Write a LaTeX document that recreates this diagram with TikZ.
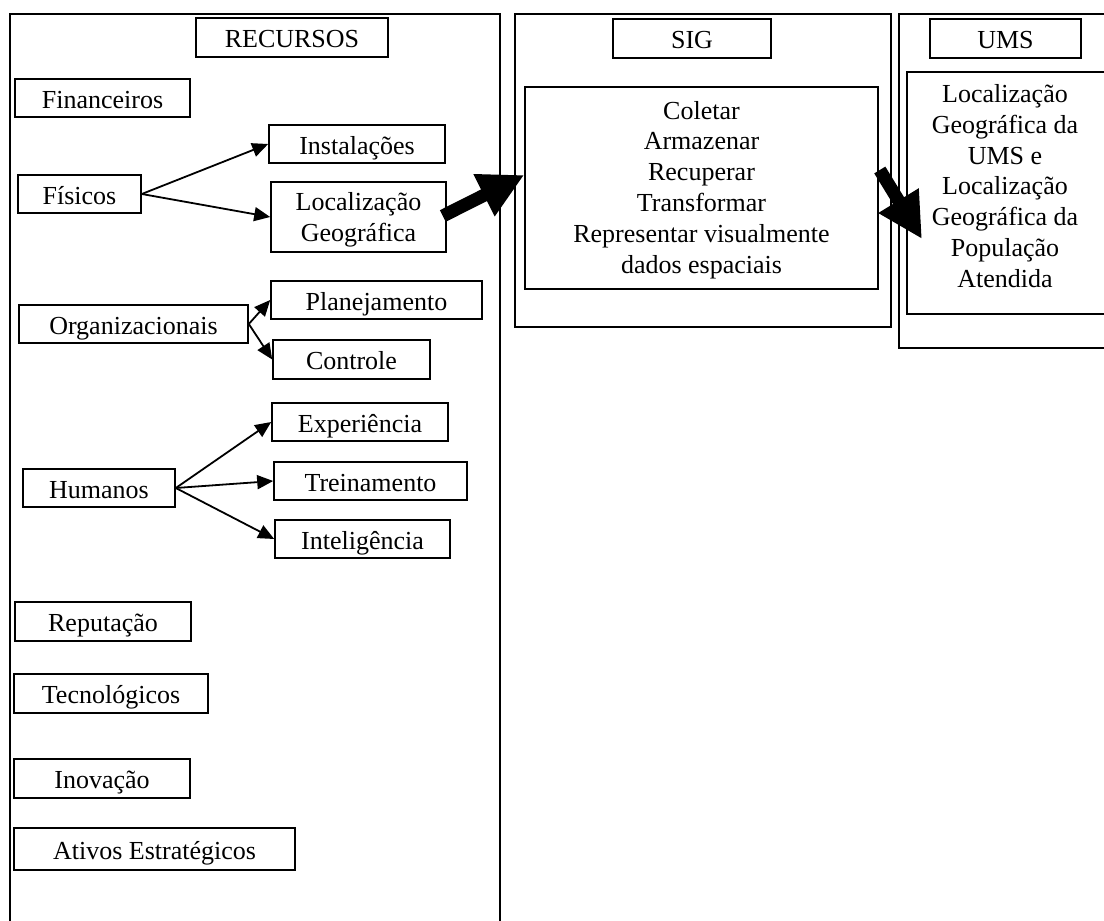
\documentclass[tikz,border=0pt]{standalone}
\usepackage{fontspec}
\setmainfont{Liberation Serif}
\usetikzlibrary{arrows.meta,calc}
\begin{document}
\begin{tikzpicture}[x=1pt,y=-1pt,
  font=\fontsize{26pt}{30.8pt}\selectfont,
  frame/.style={draw, line width=1.6pt, inner sep=0pt, anchor=north west},
  box/.style={draw, line width=1.6pt, inner sep=0pt, text height=21pt, text depth=1pt},
  mbox/.style={draw, line width=1.6pt, inner sep=0pt, align=center},
  conn/.style={line width=1.8pt, -{Triangle[length=16pt,width=14pt]}},
  bigarrow/.style={line width=13pt, -{Triangle[length=45pt,width=44pt]}}]
\useasboundingbox (0,0) rectangle (1104,921);
\clip (0,0) rectangle (1104,921);
% containers
\node[frame, minimum width=490pt, minimum height=940pt] (recbox) at (9,13) {};
\node[frame, minimum width=376pt, minimum height=313pt] (sigbox) at (514,13) {};
\node[frame, minimum width=230pt, minimum height=334pt] (umsouter) at (898,13) {};
\node[frame, minimum width=220pt, minimum height=242pt] (umsbox) at (906,71) {};
% titles
\node[box, minimum width=192pt, minimum height=39pt] (rec) at (292,37.5) {RECURSOS};
\node[box, minimum width=158pt, minimum height=39pt] (sig) at (692,38.5) {SIG};
\node[box, minimum width=151pt, minimum height=39pt] (ums) at (1005.5,38.5) {UMS};
% resources
\node[box, minimum width=175pt, minimum height=38pt] (fin) at (102.5,98) {Financeiros};
\node[box, minimum width=176pt, minimum height=38pt] (inst) at (357,144) {Instalações};
\node[box, minimum width=123pt, minimum height=38pt] (fis) at (79.5,194) {Físicos};
\node[mbox, minimum width=175pt, minimum height=70pt] (loc) at (358.5,217) {\rule{0pt}{24pt}Localização\\Geográfica};
\node[box, minimum width=211pt, minimum height=38pt] (plan) at (376.5,300) {Planejamento};
\node[box, minimum width=229pt, minimum height=38pt] (org) at (133.5,324) {Organizacionais};
\node[box, minimum width=157pt, minimum height=39pt] (ctrl) at (351.5,359.5) {Controle};
\node[box, minimum width=176pt, minimum height=38pt] (exp) at (360,422) {Experiência};
\node[box, minimum width=193pt, minimum height=38pt] (trein) at (370.5,481) {Treinamento};
\node[box, minimum width=152pt, minimum height=38pt] (hum) at (99,488) {Humanos};
\node[box, minimum width=175pt, minimum height=38pt] (intel) at (362.5,539) {Inteligência};
\node[box, minimum width=176pt, minimum height=39pt] (rep) at (103,621.5) {Reputação};
\node[box, minimum width=194pt, minimum height=39pt] (tec) at (111,693.5) {Tecnológicos};
\node[box, minimum width=176pt, minimum height=39pt] (inov) at (102,778.5) {Inovação};
\node[box, minimum width=281pt, minimum height=42pt] (ativ) at (154.5,849) {Ativos Estratégicos};
% SIG content
\node[mbox, minimum width=353pt, minimum height=202pt] (sigin) at (701.5,188)
  {\rule{0pt}{21.8pt}Coletar\\Armazenar\\Recuperar\\Transformar\\Representar visualmente\\dados espaciais};
% UMS content
\node[align=center, inner sep=0pt] (umstxt) at (1005,186)
  {Localização\\Geográfica da\\UMS e\\Localização\\Geográfica da\\População\\Atendida};
% connectors
\draw[conn] (fis.east) -- (inst.west);
\draw[conn] (fis.east) -- (loc.west);
\draw[conn] (org.east) -- (plan.west);
\draw[conn] (org.east) -- (ctrl.west);
\draw[conn] (hum.east) -- (exp.west);
\draw[conn] (hum.east) -- (trein.west);
\draw[conn] (hum.east) -- (intel.west);
\draw[bigarrow] ($(loc.east)+(-4,-1)$) -- ($(sigin.west)+(0,-13)$);
\draw[bigarrow] ($(sigin.east)+(1,-18)$) -- ($(umsbox.north west)+(16,168)$);
\end{tikzpicture}
\end{document}
